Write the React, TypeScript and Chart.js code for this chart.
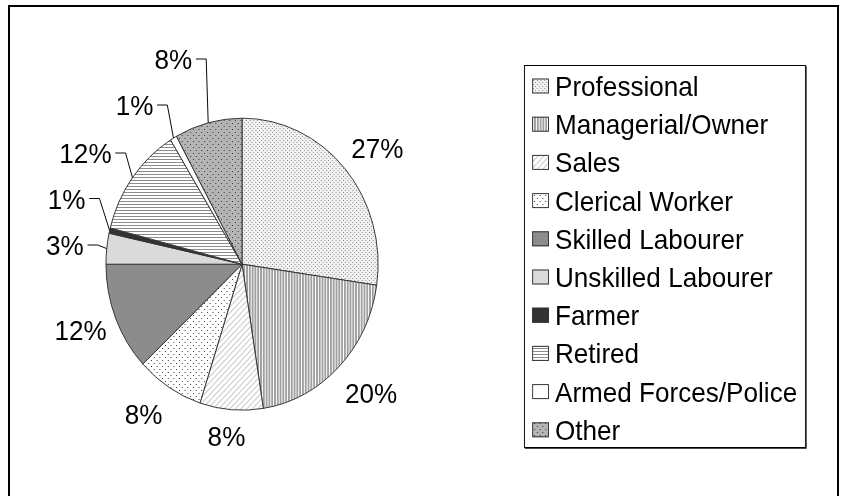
import { useEffect, useRef } from "react";
import { Chart, registerables } from "chart.js";

Chart.register(...registerables);

// ---- data ----
const categories = [
  "Professional",
  "Managerial/Owner",
  "Sales",
  "Clerical Worker",
  "Skilled Labourer",
  "Unskilled Labourer",
  "Farmer",
  "Retired",
  "Armed Forces/Police",
  "Other",
];
const shares = [27.3, 20.2, 7.5, 8.0, 12.0, 3.4, 0.6, 12.2, 0.8, 8.0];

// ---- layout / style ----
const SX = 0.932; // horizontal squish of the whole picture
const FS = 28;
const FONT = `${FS}px "Liberation Sans", Arial, sans-serif`;
const CAP = FS * 0.716;
// placement of each percentage label (offset of text centre from pie centre)
const labelOffsets: [number, number][] = [
  [145.3, -116.2],
  [138.4, 128.8],
  [-16.7, 171.8],
  [-105.7, 149.8],
  [-173.1, 65.8],
  [-190, -19.2],
  [-188.2, -65.7],
  [-168, -111.2],
  [-115.4, -159.2],
  [-73.7, -205.2],
];
const hasLeader = [false, false, false, false, false, true, true, true, true, true];

function tile(ctx: CanvasRenderingContext2D, w: number, h: number, paint: (g: CanvasRenderingContext2D) => void) {
  const c = document.createElement("canvas");
  c.width = w;
  c.height = h;
  const g = c.getContext("2d")!;
  paint(g);
  return ctx.createPattern(c, "repeat")!;
}

function buildFills(ctx: CanvasRenderingContext2D): (string | CanvasPattern)[] {
  const professional = tile(ctx, 4, 4, (g) => {
    g.fillStyle = "#f2f2f2";
    g.fillRect(0, 0, 4, 4);
    g.fillStyle = "#8a8a8a";
    g.fillRect(0, 0, 1, 1);
    g.fillRect(2, 2, 1, 1);
  });
  const managerial = tile(ctx, 3, 2, (g) => {
    g.fillStyle = "#ffffff";
    g.fillRect(0, 0, 3, 2);
    g.fillStyle = "#a0a0a0";
    g.fillRect(0, 0, 2, 2);
  });
  const sales = tile(ctx, 6, 6, (g) => {
    g.fillStyle = "#ffffff";
    g.fillRect(0, 0, 6, 6);
    g.fillStyle = "#d6d6d6";
    for (let x = 0; x < 6; x++)
      for (let y = 0; y < 6; y++) if ((x + y) % 6 < 2) g.fillRect(x, y, 1, 1);
  });
  const clerical = tile(ctx, 6, 6, (g) => {
    g.fillStyle = "#ffffff";
    g.fillRect(0, 0, 6, 6);
    g.fillStyle = "#333333";
    g.fillRect(0, 0, 1, 1);
    g.fillRect(3, 3, 1, 1);
  });
  const retired = tile(ctx, 2, 3, (g) => {
    g.fillStyle = "#ffffff";
    g.fillRect(0, 0, 2, 3);
    g.fillStyle = "#8c8c8c";
    g.fillRect(0, 0, 2, 1);
  });
  const other = tile(ctx, 6, 6, (g) => {
    g.fillStyle = "#b4b4b4";
    g.fillRect(0, 0, 6, 6);
    g.fillStyle = "#333333";
    g.fillRect(0, 0, 1, 1);
    g.fillRect(3, 3, 1, 1);
  });
  return [professional, managerial, sales, clerical, "#8c8c8c", "#dadada", "#333333", retired, "#ffffff", other];
}

const drawPlugin = {
  id: "squishAndAnnotate",
  beforeDraw(chart: any) {
    const ctx = chart.ctx as CanvasRenderingContext2D;
    ctx.save();
    ctx.scale(SX, 1);
  },
  afterDraw(chart: any) {
    const ctx = chart.ctx as CanvasRenderingContext2D;
    const meta = chart.getDatasetMeta(0);
    const values: number[] = chart.data.datasets[0].data;
    const total = values.reduce((a, b) => a + b, 0);
    const fills = chart.data.datasets[0].backgroundColor;

    // percentage labels
    ctx.font = FONT;
    ctx.fillStyle = "#000";
    ctx.textAlign = "center";
    ctx.textBaseline = "alphabetic";
    ctx.strokeStyle = "#000";
    ctx.lineWidth = 1;
    meta.data.forEach((arc: any, i: number) => {
      const { x, y, startAngle, endAngle, outerRadius } = arc.getProps(
        ["x", "y", "startAngle", "endAngle", "outerRadius"],
        true
      );
      const a = (startAngle + endAngle) / 2;
      const ux = Math.cos(a);
      const uy = Math.sin(a);
      const text = `${Math.round((values[i] / total) * 100)}%`;
      const w = ctx.measureText(text).width;
      const off = labelOffsets[i];
      const cx = x + off[0];
      const cy = y + off[1];
      if (hasLeader[i]) {
        const right = cx + w / 2;
        ctx.beginPath();
        ctx.moveTo(right + 4, cy);
        ctx.lineTo(right + 15, cy);
        ctx.lineTo(x + outerRadius * ux, y + outerRadius * uy);
        ctx.stroke();
      }
      ctx.fillText(text, cx, cy + CAP / 2);
    });

    // legend
    const lx1 = 562.2;
    const lx2 = 863.7;
    const ly1 = 65;
    const ly2 = 447;
    ctx.fillStyle = "#fff";
    ctx.fillRect(lx1, ly1, lx2 - lx1, ly2 - ly1);
    ctx.strokeStyle = "#000";
    ctx.lineWidth = 1;
    ctx.strokeRect(lx1 + 0.5, ly1 + 0.5, lx2 - lx1, ly2 - ly1);
    ctx.strokeStyle = "#444";
    ctx.beginPath();
    ctx.moveTo(lx1 + 1, ly2 + 1.5);
    ctx.lineTo(lx2 + 1.5, ly2 + 1.5);
    ctx.lineTo(lx2 + 1.5, ly1 + 1);
    ctx.stroke();

    ctx.textAlign = "left";
    chart.data.labels.forEach((lab: string, i: number) => {
      const rc = 86 + i * 38.2;
      ctx.fillStyle = fills[i];
      ctx.fillRect(571, rc - 7.5, 18, 15);
      ctx.strokeStyle = "#333";
      ctx.strokeRect(571.5, rc - 7, 17, 14);
      ctx.fillStyle = "#000";
      ctx.fillText(lab, 595.5, rc + CAP / 2);
    });

    ctx.restore();
  },
};

export default function App() {
  const ref = useRef<HTMLCanvasElement>(null);
  useEffect(() => {
    const canvas = ref.current!;
    const ctx = canvas.getContext("2d")!;
    const fills = buildFills(ctx);
    const chart = new Chart(canvas, {
      type: "pie",
      data: {
        labels: categories,
        datasets: [
          {
            data: shares,
            backgroundColor: fills as any,
            borderColor: "#333333",
            borderWidth: 1,
            clip: false as any,
          },
        ],
      },
      options: {
        responsive: false,
        animation: false,
        events: [],
        layout: { padding: { left: 113.2, right: 434.8, top: 117.7, bottom: 85.3 } },
        plugins: { legend: { display: false }, tooltip: { enabled: false } },
      },
      plugins: [drawPlugin as any],
    });
    return () => chart.destroy();
  }, []);
  return (
    <div
      style={{
        position: "absolute",
        left: 0,
        top: 0,
        width: 841,
        height: 496,
        overflow: "hidden",
        background: "#fff",
      }}
    >
      <canvas ref={ref} width={841} height={496} style={{ position: "absolute", left: 0, top: 0 }} />
      <div
        style={{
          position: "absolute",
          left: 8,
          top: 5,
          width: 831,
          height: 520,
          border: "2px solid #000",
          boxSizing: "border-box",
        }}
      />
    </div>
  );
}
